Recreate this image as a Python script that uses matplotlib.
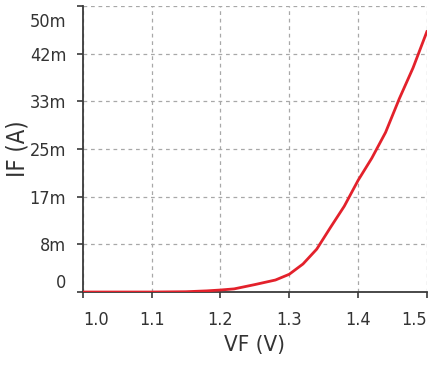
import matplotlib
matplotlib.use('Agg')
import matplotlib.pyplot as plt
import matplotlib.transforms as mtransforms
import numpy as np

# forward voltage (V) and forward current (mA)
vf = [1.0, 1.1, 1.15, 1.18, 1.2, 1.22, 1.25, 1.28, 1.30, 1.32, 1.34,
      1.36, 1.38, 1.40, 1.42, 1.44, 1.46, 1.48, 1.50]
if_ma = [0, 0, 0.05, 0.2, 0.35, 0.55, 1.3, 2.1, 3.1, 4.9, 7.5,
         11.3, 15.0, 19.5, 23.4, 27.9, 33.8, 39.2, 45.5]

x_ticks = [1.0, 1.1, 1.2, 1.3, 1.4, 1.5]
x_labels = ['1.0', '1.1', '1.2', '1.3', '1.4', '1.5']
y_ticks = list(np.linspace(0, 0.05, 7))
y_labels = ['0', '8m', '17m', '25m', '33m', '42m', '50m']

plt.rcParams['font.family'] = ['DejaVu Sans']
plt.rcParams['font.stretch'] = 'condensed'

fig = plt.figure(figsize=(4.29, 3.72), dpi=100)
ax = fig.add_axes([0.193, 0.215, 0.802, 0.769])

ax.plot(np.array(vf), np.array(if_ma) / 1000.0, color='#e3212b', lw=2.0,
        zorder=3, solid_joinstyle='round')

ax.set_xlim(1.0, 1.5)
ax.set_ylim(0, 0.05)
ax.set_xticks(x_ticks)
ax.set_xticklabels(x_labels)
ax.set_yticks(y_ticks)
ax.set_yticklabels(y_labels)

ax.grid(True, linestyle=(0, (3, 3)), color='#a8a8a8', lw=0.9)
for s in ['top', 'right']:
    ax.spines[s].set_visible(False)
for s in ['left', 'bottom']:
    ax.spines[s].set_color('#3a3a3a')
    ax.spines[s].set_linewidth(1.3)

ax.tick_params(axis='both', colors='#3a3a3a', labelcolor='#333333',
               labelsize=13, length=4, width=1.2, direction='out')
ax.tick_params(axis='x', pad=10)
ax.tick_params(axis='y', pad=8)

# first and last labels sit inside the axis range
ylabs = ax.get_yticklabels()
ylabs[0].set_va('bottom')
ylabs[-1].set_va('top')
ylabs[-1].set_transform(ylabs[-1].get_transform() +
                        mtransforms.ScaledTranslation(0, -5 / 72, fig.dpi_scale_trans))
xlabs = ax.get_xticklabels()
xlabs[0].set_ha('left')
xlabs[-1].set_ha('right')

ax.set_xlabel('VF (V)', fontsize=16, color='#333333', labelpad=4)
ax.set_ylabel('IF (A)', fontsize=17, color='#333333', labelpad=0)

fig.savefig('out.png', dpi=100)
